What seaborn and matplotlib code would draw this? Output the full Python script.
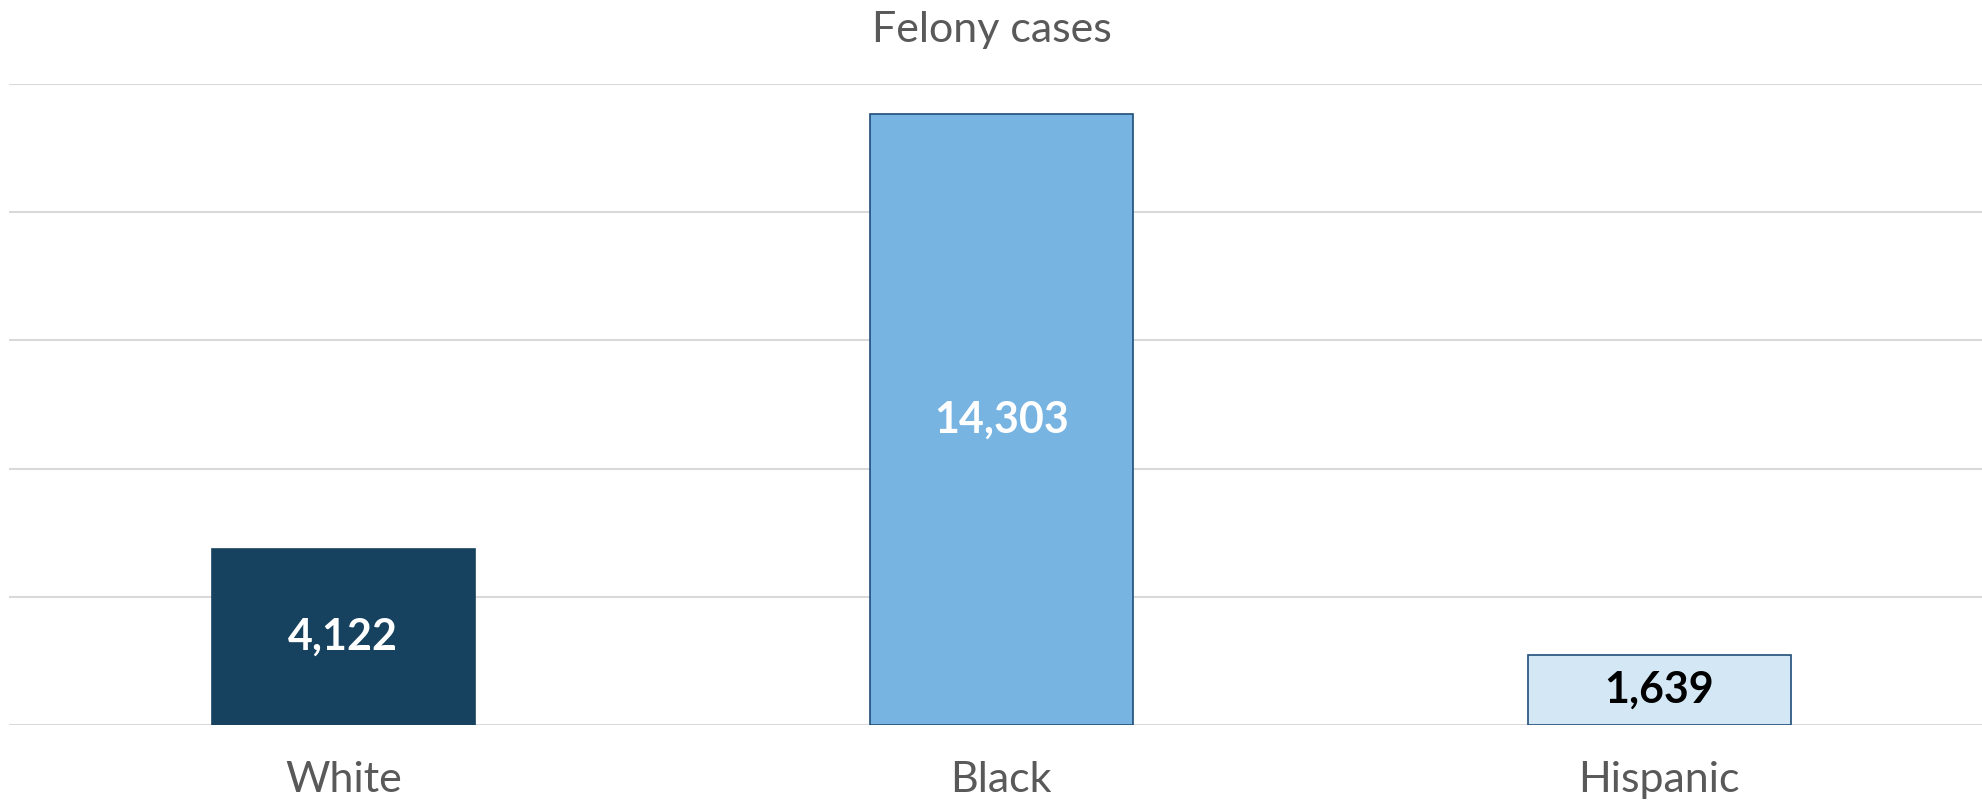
import numpy as np
import pandas as pd
import matplotlib
matplotlib.use("Agg")
import matplotlib.pyplot as plt
import seaborn as sns

groups = ["White", "Black", "Hispanic"]
cases = [4122, 14303, 1639]
bar_colors = ["#16425f", "#77b4e2", "#d3e7f5"]
label_colors = ["white", "white", "black"]

df = pd.DataFrame({"group": groups, "cases": cases})

sns.set_theme(style="white")
plt.rcParams["font.family"] = ["Lato", "DejaVu Sans"]

fig = plt.figure(figsize=(19.83, 8.02), dpi=100)
ax = fig.add_axes([9 / 1983, 1 - 725 / 802, 1 - 9 / 1983, (725 - 84) / 802])

sns.barplot(data=df, x="group", y="cases", hue="group", palette=bar_colors,
            saturation=1, width=0.40, edgecolor="#1f4e79", linewidth=1.2,
            legend=False, ax=ax, zorder=3)
ax.patches[0].set_edgecolor(bar_colors[0])

ax.set_ylim(0, 15000)
ax.set_xlim(-0.508, 2.492)
ax.set_yticks(np.arange(0, 15001, 3000))
ax.yaxis.grid(True, color="#d9d9d9", linewidth=1.5, zorder=0)
ax.set_yticklabels([])
ax.tick_params(axis="y", length=0)
ax.tick_params(axis="x", length=0, labelsize=31, labelcolor="#595959", pad=26)
for s in ax.spines.values():
    s.set_visible(False)
ax.set_xlabel("")
ax.set_ylabel("")

for i, v in enumerate(cases):
    ax.text(i, v / 2, f"{v:,}", ha="center", va="center", fontsize=31,
            fontweight="bold", color=label_colors[i], zorder=4)

fig.text(0.5, 1 - 30 / 802, "Felony cases", ha="center", va="center",
         fontsize=31, color="#595959")

fig.savefig("out.png", dpi=100)
